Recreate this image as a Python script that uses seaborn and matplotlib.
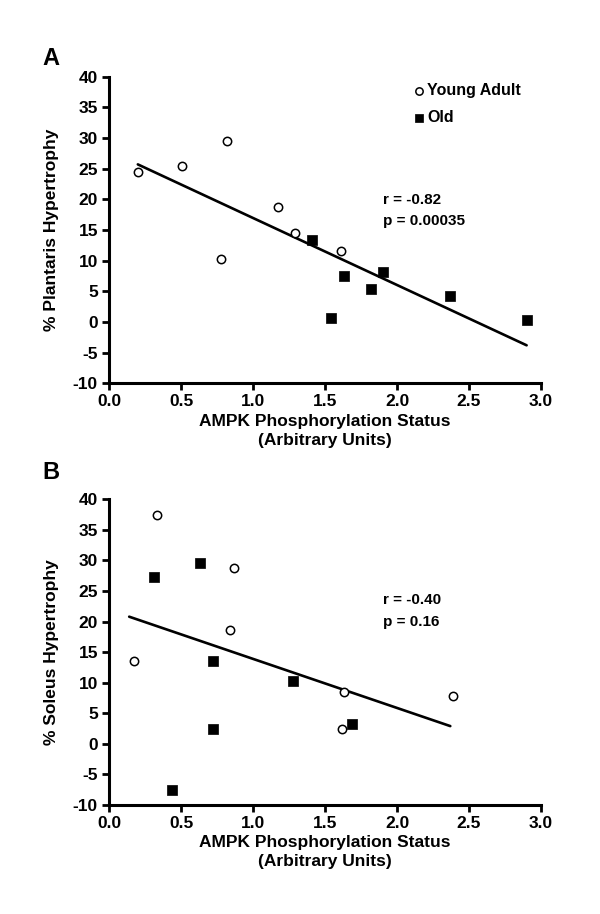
import matplotlib
matplotlib.use("Agg")
import matplotlib.pyplot as plt
import seaborn as sns
import pandas as pd

sns.set_theme(style="white")
plt.rcParams["font.family"] = ["Liberation Sans", "DejaVu Sans"]
plt.rcParams["font.weight"] = "bold"
plt.rcParams["text.color"] = "black"
plt.rcParams["axes.labelcolor"] = "black"

# Panel A: plantaris
young_a_x = [0.20, 0.51, 0.82, 0.78, 1.17, 1.29, 1.61]
young_a_y = [24.4, 25.4, 29.5, 10.3, 18.7, 14.5, 11.5]
old_a_x = [1.41, 1.63, 1.54, 1.82, 1.90, 2.37, 2.90]
old_a_y = [13.3, 7.5, 0.6, 5.4, 8.2, 4.3, 0.4]
fit_a_x = [0.20, 2.90]
fit_a_y = [25.7, -3.8]

# Panel B: soleus
young_b_x = [0.33, 0.87, 0.84, 0.17, 1.63, 1.62, 2.39]
young_b_y = [37.5, 28.7, 18.6, 13.5, 8.4, 2.4, 7.9]
old_b_x = [0.31, 0.63, 0.72, 0.72, 0.44, 1.28, 1.69]
old_b_y = [27.3, 29.6, 13.5, 2.4, -7.6, 10.3, 3.3]
fit_b_x = [0.14, 2.37]
fit_b_y = [20.8, 2.9]

x_ticks = [0.0, 0.5, 1.0, 1.5, 2.0, 2.5, 3.0]
y_ticks = [-10, -5, 0, 5, 10, 15, 20, 25, 30, 35, 40]
x_label = "AMPK Phosphorylation Status\n(Arbitrary Units)"

panels = [
    ("A", 1.097, young_a_x, young_a_y, old_a_x, old_a_y, fit_a_x, fit_a_y,
     "% Plantaris Hypertrophy", ["r = -0.82", "p = 0.00035"], [19.9, 16.4], True,
     [0.1817, 0.5806, 0.72, 0.3355]),
    ("B", 1.125, young_b_x, young_b_y, old_b_x, old_b_y, fit_b_x, fit_b_y,
     "% Soleus Hypertrophy", ["r = -0.40", "p = 0.16"], [23.5, 20.0], False,
     [0.1817, 0.1193, 0.72, 0.3344]),
]

fig = plt.figure(figsize=(6, 9.14), dpi=100)

for letter, ly, yx, yy, ox, oy, fx, fy, ylab, stats, stat_y, show_leg, rect in panels:
    ax = fig.add_axes(rect)
    young = pd.DataFrame({"x": yx, "y": yy})
    old = pd.DataFrame({"x": ox, "y": oy})
    fit = pd.DataFrame({"x": fx, "y": fy})

    sns.lineplot(data=fit, x="x", y="y", ax=ax, color="black", linewidth=1.9, zorder=2)
    sns.scatterplot(data=young, x="x", y="y", ax=ax, marker="o", s=36,
                    color="white", edgecolor="black", linewidth=1.1,
                    label="Young Adult", zorder=3)
    sns.scatterplot(data=old, x="x", y="y", ax=ax, marker="s", s=50,
                    color="black", edgecolor="black", linewidth=0.5,
                    label="Old", zorder=3)

    ax.set_xlim(0, 3.0)
    ax.set_ylim(-10, 40)
    ax.set_xticks(x_ticks)
    ax.set_xticklabels([f"{t:.1f}" for t in x_ticks])
    ax.set_yticks(y_ticks)
    ax.set_yticklabels([str(t) for t in y_ticks])
    ax.tick_params(axis="both", direction="out", length=5, width=2, pad=3,
                   labelsize=12.5, color="black", labelcolor="black",
                   bottom=True, left=True)
    for lab in ax.get_xticklabels() + ax.get_yticklabels():
        lab.set_fontweight("bold")
    for side in ["top", "right"]:
        ax.spines[side].set_visible(False)
    for side in ["left", "bottom"]:
        ax.spines[side].set_linewidth(2.2)
        ax.spines[side].set_color("black")
    ax.set_xlabel(x_label, fontsize=12.5, fontweight="bold", labelpad=3,
                  linespacing=1.35)
    ax.set_ylabel(ylab, fontsize=12.5, fontweight="bold", labelpad=10)

    for txt, ty in zip(stats, stat_y):
        ax.text(1.90, ty, txt, fontsize=11, fontweight="bold", va="center", ha="left")

    if show_leg:
        ax.legend(loc="upper left", bbox_to_anchor=(0.665, 1.025), frameon=False,
                  handletextpad=0.05, labelspacing=0.75, markerscale=0.88,
                  handlelength=1.0, prop={"weight": "bold", "size": 11.5})
    else:
        ax.get_legend().remove()

    ax.text(-0.155, ly, letter, transform=ax.transAxes, fontsize=17,
            fontweight="bold", va="top", ha="left")

fig.savefig("out.png", dpi=100, facecolor="white")
